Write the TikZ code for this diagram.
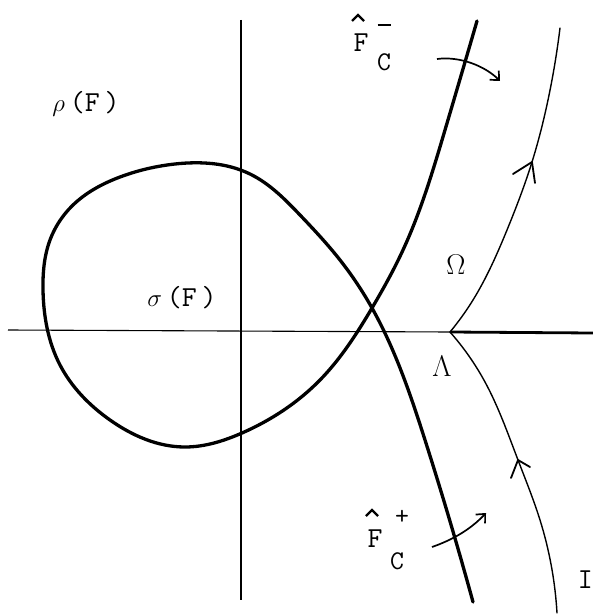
\documentclass[tikz,border=0pt]{standalone}
\usepackage{graphicx}
\usetikzlibrary{arrows.meta,hobby}
\tikzset{
  thickline/.style={line width=3.3pt, line cap=round, line join=round},
  thinline/.style={line width=1.4pt, line cap=round, line join=round},
  axisline/.style={line width=1.1pt},
  lbl/.style={inner sep=0pt, font=\ttfamily\fontsize{29}{29}\selectfont},
  biglbl/.style={inner sep=0pt, font=\fontsize{24}{24}\selectfont},
  sublbl/.style={inner sep=0pt, font=\ttfamily\fontsize{27}{27}\selectfont},
  hatline/.style={line width=2.4pt, line join=miter},
  bent/.style={line width=1.7pt, -{Straight Barb[length=7pt,width=13pt,line width=1.7pt]}},
}
\begin{document}
\begin{tikzpicture}[x=1pt,y=-1pt]
\useasboundingbox (0,0) rectangle (593,615);
% axes
\coordinate (hl) at (8,330);
\coordinate (L) at (450,332);
\coordinate (hr) at (593,333);
\coordinate (vt) at (241,20);
\coordinate (vb) at (241,600);
\draw[axisline] (hl) -- (L);
\draw[line width=2.8pt] (L) -- (hr);
\draw[axisline] (vt) -- (vb);
% main thick curve with loop
\draw[thickline, use Hobby shortcut] (477,21) .. (445,130) .. (403,250) .. (372,308)
 .. (320,380) .. (242,433) .. (185,447) .. (110,420) .. (60,365) .. (43,290)
 .. (50,240) .. (72,206) .. (120,177) .. (175,164) .. (250,174) .. (300,215)
 .. (340,260) .. (372,308) .. (425,440) .. (473,602);
% thin curves from Lambda
\draw[thinline, use Hobby shortcut] (L) .. (473,300) .. (507,230) .. (532,162)
 .. (548,100) .. (560,28);
\draw[thinline, use Hobby shortcut] (L) .. (485,382) .. (518,460) .. (540,520)
 .. (557,613);
% arrow marks on thin curves
\coordinate (ua) at (532,162);
\draw[thinline, line width=1.8pt] (513,174) -- (ua) -- (535,183);
\coordinate (la) at (518,460);
\draw[thinline, line width=1.8pt] (511,478) -- (la) -- (530,467);
% bent arrows
\coordinate (ta0) at (437,59);
\coordinate (ta1) at (500,81);
\draw[bent] (ta0) .. controls (460,56) and (485,66) .. (ta1);
\coordinate (ba0) at (432,547);
\coordinate (ba1) at (486,513);
\draw[bent] (ba0) .. controls (452,540) and (470,530) .. (ba1);
% labels
\node[lbl] (rho) at (86,104) {$\rho$\,(F\,)};
\node[lbl] (sigma) at (182,298) {$\sigma$\,(F\,)};
\node[biglbl] (omega) at (456,265) {\scalebox{1.15}{$\Omega$}};
\node[biglbl] (lambda) at (442,366) {\scalebox{1.2}{$\Lambda$}};
\node[lbl, anchor=east] (I) at (593,580) {I};
% F_c^- hat
\node[lbl] (Fm) at (361,43) {F};
\coordinate (hm) at (358,15);
\draw[hatline] ([xshift=-6pt,yshift=-6pt]hm) -- (hm) -- ([xshift=6pt,yshift=-6pt]hm);
\node[sublbl] (Fmsup) at (384,25) {\rule{13pt}{2.4pt}};
\node[sublbl] (Fmsub) at (384,62) {C};
% F_c^+ hat
\node[lbl] (Fp) at (375,539) {F};
\coordinate (hp) at (372,510);
\draw[hatline] ([xshift=-6pt,yshift=-6pt]hp) -- (hp) -- ([xshift=6pt,yshift=-6pt]hp);
\node[sublbl] (Fpsup) at (402,517) {+};
\node[sublbl] (Fpsub) at (397,561) {C};
\end{tikzpicture}
\end{document}
